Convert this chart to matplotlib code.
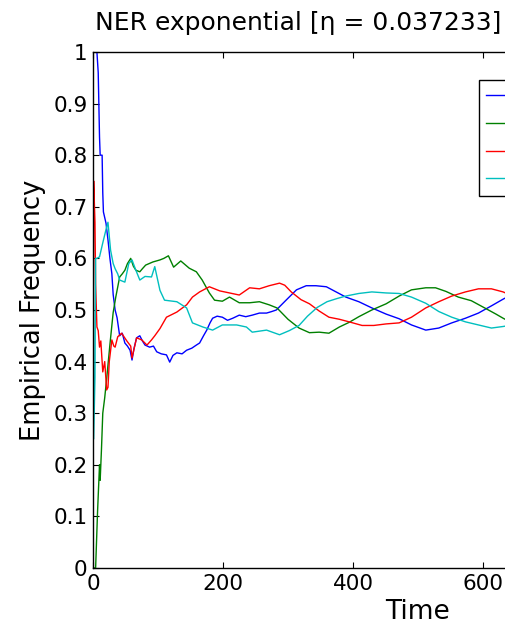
import matplotlib
matplotlib.use('Agg')
from matplotlib import pyplot as plt

# 学习速率
eta = 0.037233

# 各动作的经验频率 (时间, 频率)
t_blue = [0, 6, 8, 10, 11, 14, 15, 16, 20, 23, 26, 29, 31, 34, 37, 41, 45, 49, 53, 57, 60, 63,
          67, 72, 76, 80, 87, 93, 98, 105, 113, 118, 123, 129, 137, 144, 152, 159, 164, 170,
          175, 180, 184, 191, 199, 207, 215, 225, 235, 245, 256, 267, 275, 282, 297, 313,
          328, 343, 359, 374, 389, 409, 429, 451, 471, 490, 512, 532, 552, 573, 593, 613,
          631, 640]
freq_blue = [1.0, 1.0, 0.96, 0.835, 0.80, 0.80, 0.727, 0.69, 0.668, 0.636, 0.60, 0.57, 0.53,
             0.50, 0.485, 0.45, 0.455, 0.436, 0.43, 0.422, 0.403, 0.425, 0.446, 0.45, 0.44,
             0.432, 0.428, 0.43, 0.419, 0.415, 0.413, 0.399, 0.412, 0.417, 0.415, 0.422,
             0.426, 0.432, 0.436, 0.45, 0.461, 0.475, 0.484, 0.488, 0.486, 0.48, 0.484, 0.49,
             0.487, 0.49, 0.494, 0.494, 0.497, 0.50, 0.519, 0.539, 0.547, 0.547, 0.545, 0.535,
             0.525, 0.516, 0.504, 0.492, 0.483, 0.471, 0.461, 0.465, 0.475, 0.484, 0.494,
             0.508, 0.521, 0.527]

t_green = [0, 4, 7, 10, 11, 13, 15, 18, 21, 26, 31, 35, 41, 45, 49, 53, 58, 62, 66, 72, 76,
           81, 92, 103, 109, 116, 124, 135, 148, 159, 168, 179, 187, 199, 210, 225, 241, 256,
           271, 283, 300, 317, 333, 348, 363, 379, 394, 409, 429, 451, 471, 490, 512, 527,
           543, 562, 582, 604, 620, 631, 640]
freq_green = [0.0, 0.0, 0.11, 0.20, 0.17, 0.23, 0.30, 0.33, 0.367, 0.433, 0.495, 0.525, 0.564,
              0.57, 0.577, 0.59, 0.60, 0.585, 0.577, 0.574, 0.58, 0.587, 0.593, 0.597, 0.60,
              0.605, 0.583, 0.595, 0.581, 0.574, 0.558, 0.533, 0.519, 0.517, 0.525, 0.514,
              0.514, 0.516, 0.51, 0.504, 0.482, 0.465, 0.456, 0.457, 0.455, 0.467, 0.476,
              0.487, 0.50, 0.512, 0.527, 0.539, 0.543, 0.543, 0.536, 0.525, 0.518, 0.503,
              0.492, 0.484, 0.478]

t_red = [0, 1, 3, 4, 6, 8, 10, 12, 15, 18, 21, 23, 25, 29, 32, 34, 38, 44, 52, 58, 60, 67,
         75, 83, 90, 95, 103, 113, 129, 144, 153, 164, 179, 195, 210, 225, 241, 256, 271,
         287, 295, 305, 320, 333, 348, 363, 379, 394, 414, 432, 451, 471, 490, 512, 532,
         552, 573, 593, 613, 631, 640]
freq_red = [0.0, 0.75, 0.67, 0.55, 0.467, 0.46, 0.428, 0.44, 0.38, 0.40, 0.345, 0.35, 0.40,
            0.442, 0.43, 0.428, 0.448, 0.455, 0.44, 0.43, 0.407, 0.446, 0.442, 0.432, 0.442,
            0.45, 0.464, 0.486, 0.496, 0.51, 0.525, 0.535, 0.545, 0.537, 0.533, 0.529, 0.543,
            0.541, 0.547, 0.552, 0.548, 0.535, 0.52, 0.512, 0.498, 0.486, 0.482, 0.477, 0.47,
            0.47, 0.473, 0.475, 0.486, 0.504, 0.516, 0.527, 0.535, 0.541, 0.541, 0.535, 0.53]

t_cyan = [0, 1, 3, 4, 6, 10, 15, 20, 23, 27, 31, 34, 38, 41, 49, 55, 60, 65, 72, 80, 90, 95,
          103, 110, 129, 144, 153, 169, 184, 199, 221, 236, 245, 267, 287, 302, 317, 330,
          345, 360, 375, 389, 409, 429, 451, 471, 490, 512, 532, 552, 573, 593, 613, 631, 640]
freq_cyan = [1.0, 0.25, 0.37, 0.6, 0.60, 0.603, 0.63, 0.656, 0.67, 0.616, 0.59, 0.58, 0.57,
             0.558, 0.554, 0.59, 0.597, 0.58, 0.558, 0.565, 0.564, 0.584, 0.538, 0.519, 0.516,
             0.504, 0.475, 0.467, 0.461, 0.471, 0.471, 0.467, 0.457, 0.461, 0.452, 0.46, 0.47,
             0.488, 0.505, 0.516, 0.522, 0.527, 0.532, 0.535, 0.533, 0.532, 0.525, 0.513,
             0.497, 0.486, 0.477, 0.471, 0.465, 0.468, 0.47]

series_labels = ['Player 1: action 1', 'Player 1: action 2',
                 'Player 2: action 1', 'Player 2: action 2']
x_ticks = [0, 200, 400, 600, 800, 1000]
y_ticks = [0, 0.1, 0.2, 0.3, 0.4, 0.5, 0.6, 0.7, 0.8, 0.9, 1]
y_tick_labels = ['0', '0.1', '0.2', '0.3', '0.4', '0.5', '0.6', '0.7', '0.8', '0.9', '1']

plt.rcParams['font.size'] = 15

fig = plt.figure(figsize=(5.05, 6.33), dpi=100)
ax = fig.add_axes([0.1842, 0.1027, 1.287, 0.8152])

ax.plot(t_blue, freq_blue, c=(0, 0, 1), lw=1.0, label=series_labels[0])
ax.plot(t_green, freq_green, c=(0, 0.5, 0), lw=1.0, label=series_labels[1])
ax.plot(t_red, freq_red, c=(1, 0, 0), lw=1.0, label=series_labels[2])
ax.plot(t_cyan, freq_cyan, c=(0, 0.75, 0.75), lw=1.0, label=series_labels[3])

ax.set_xlim(0, 1000)
ax.set_ylim(0, 1)
ax.set_xticks(x_ticks)
ax.set_yticks(y_ticks)
ax.set_yticklabels(y_tick_labels)
ax.tick_params(axis='both', direction='in', top=True, right=True, length=4, width=0.8,
               labelsize=15.5, pad=4)
for s in ax.spines.values():
    s.set_linewidth(1.0)

ax.set_xlabel('Time', fontsize=19, va='top')
ax.xaxis.set_label_coords(0.5, -0.06)
ax.set_ylabel('Empirical Frequency', fontsize=18.5)
ax.yaxis.set_label_coords(-0.072, 0.5)

fig.text(95 / 505, 1 - 30 / 633, 'NER exponential [η = %g]' % eta, fontsize=18,
         ha='left', va='baseline')

leg = ax.legend(loc='upper left', bbox_to_anchor=(0.5938, 0.9457), borderaxespad=0,
                fontsize=15, fancybox=False, framealpha=1, edgecolor='k',
                borderpad=0.32, labelspacing=0.37, handlelength=2.0)
leg.get_frame().set_linewidth(1.0)

plt.savefig('out.png', dpi=100)
